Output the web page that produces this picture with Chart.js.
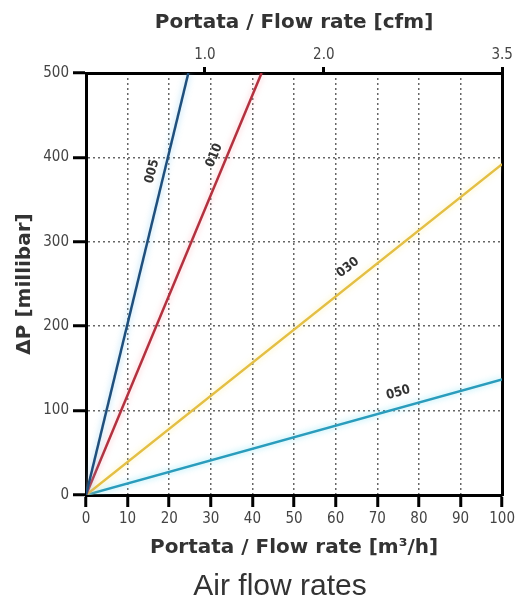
<!DOCTYPE html>
<html>
<head>
<meta charset="utf-8">
<script src="https://cdn.jsdelivr.net/npm/chart.js@4/dist/chart.umd.min.js"></script>
<style>
  body { margin: 0; background: #fff; }
  canvas { display: block; }
</style>
</head>
<body>
<canvas id="chart1" width="518" height="603"></canvas>
<script>
// line names and their end points (flow m3/h, pressure drop millibar)
const seriesNames = ["005", "010", "030", "050"];
const flow005 = [0, 24.6];
const dp005 = [0, 500];
const flow010 = [0, 42.2];
const dp010 = [0, 500];
const flow030 = [0, 100];
const dp030 = [0, 392];
const flow050 = [0, 100];
const dp050 = [0, 137];
// where along each line (flow value) the name sits
const labelFlow = [18.7, 33.5, 65.2, 76];
// top axis ticks in cfm
const cfmTicks = [1.0, 2.0, 3.5];

const lineColors = ["#1f4f7c", "#b2313f", "#e3bf45", "#2a9cbc"];
const haloColors = ["rgba(120,200,240,0.7)", "rgba(250,150,160,0.6)", "rgba(250,235,140,0.7)", "rgba(120,225,245,0.8)"];

const allFlow = [flow005, flow010, flow030, flow050];
const allDp = [dp005, dp010, dp030, dp050];

const datasets = seriesNames.map((name, i) => ({
  label: name,
  data: allFlow[i].map((x, j) => ({ x: x, y: allDp[i][j] })),
  borderColor: lineColors[i],
  borderWidth: 2.5,
  pointRadius: 0,
  fill: false,
  xAxisID: "x",
  yAxisID: "y"
}));

const tickFont = { family: "DejaVu Sans Condensed", size: 15 };
const titleFont = { family: "DejaVu Sans", weight: "bold", size: 20 };

// soft glow under each line
const haloPlugin = {
  id: "halo",
  beforeDatasetDraw(chart, args) {
    const ctx = chart.ctx;
    ctx.save();
    ctx.shadowColor = haloColors[args.index];
    ctx.shadowBlur = 6;
  },
  afterDatasetDraw(chart) {
    chart.ctx.restore();
  }
};

// names written along the lines
const lineLabels = {
  id: "lineLabels",
  afterDatasetsDraw(chart) {
    const ctx = chart.ctx;
    const xs = chart.scales.x, ys = chart.scales.y;
    seriesNames.forEach((name, i) => {
      const fx = allFlow[i], dy = allDp[i];
      const slope = (dy[1] - dy[0]) / (fx[1] - fx[0]);
      const xv = labelFlow[i];
      const px = xs.getPixelForValue(xv);
      const py = ys.getPixelForValue(dy[0] + slope * (xv - fx[0]));
      const ex = xs.getPixelForValue(fx[1]) - xs.getPixelForValue(fx[0]);
      const ey = ys.getPixelForValue(dy[1]) - ys.getPixelForValue(dy[0]);
      const ang = Math.atan2(ey, ex);
      const ux = Math.sin(ang), uy = -Math.cos(ang);
      const d = ang < -Math.PI / 4 ? 12 : 15;
      ctx.save();
      ctx.translate(px + d * ux, py + d * uy);
      ctx.rotate(ang);
      ctx.font = "bold 13px 'DejaVu Sans Condensed'";
      ctx.fillStyle = "#333";
      ctx.textAlign = "center";
      ctx.textBaseline = "middle";
      ctx.fillText(name, 0, 0);
      ctx.restore();
    });
  }
};

new Chart(document.getElementById("chart1"), {
  type: "line",
  data: { datasets: datasets },
  plugins: [haloPlugin, lineLabels],
  options: {
    responsive: false,
    animation: false,
    layout: { padding: { left: 42, right: 0, top: 0, bottom: 0 } },
    plugins: {
      legend: { display: false },
      tooltip: { enabled: false },
      title: {
        display: true,
        position: "bottom",
        text: "Air flow rates",
        color: "#333",
        font: { family: "Liberation Sans", size: 30, weight: "normal", lineHeight: 1 },
        padding: { top: 0, bottom: 1 }
      }
    },
    scales: {
      x: {
        type: "linear",
        position: "bottom",
        min: 0,
        max: 100,
        ticks: { stepSize: 10, color: "#444", font: tickFont, padding: 3, maxRotation: 0, autoSkip: false },
        grid: { color: "#666", lineWidth: 1.5, tickColor: "#000", tickWidth: 3, tickLength: 12, tickBorderDash: [] },
        border: { color: "#000", width: 3, dash: [2, 3] },
        title: { display: true, text: "Portata / Flow rate [m³/h]", color: "#333", font: titleFont, padding: { top: 0, bottom: 12 } },
        afterFit(s) { s.height = 77; }
      },
      x2: {
        type: "linear",
        position: "top",
        min: 0,
        max: 3.5,
        afterBuildTicks(s) { s.ticks = cfmTicks.map(v => ({ value: v })); },
        ticks: { color: "#444", font: tickFont, padding: 3, callback: v => v.toFixed(1) },
        grid: { drawOnChartArea: false, tickColor: "#000", tickWidth: 3, tickLength: 6, tickBorderDash: [] },
        border: { color: "#000", width: 3 },
        title: { display: true, text: "Portata / Flow rate [cfm]", color: "#333", font: titleFont, padding: { top: 11, bottom: 0 } },
        afterFit(s) { s.height = 73; }
      },
      y: {
        type: "linear",
        position: "left",
        min: 0,
        max: 500,
        ticks: { stepSize: 100, color: "#444", font: tickFont, padding: 4 },
        grid: { color: "#666", lineWidth: 1.5, tickColor: "#000", tickWidth: 3, tickLength: 13, tickBorderDash: [] },
        border: { color: "#000", width: 3, dash: [2, 3] },
        title: { display: true, text: "ΔP [millibar]", color: "#333", font: titleFont, padding: { top: -29, bottom: 0 } },
        afterFit(s) { s.width = 44; }
      },
      y2: {
        type: "linear",
        position: "right",
        min: 0,
        max: 500,
        ticks: { display: false },
        grid: { drawOnChartArea: false, drawTicks: false },
        border: { color: "#000", width: 3 },
        afterFit(s) { s.width = 15; }
      }
    }
  }
});
</script>
</body>
</html>
